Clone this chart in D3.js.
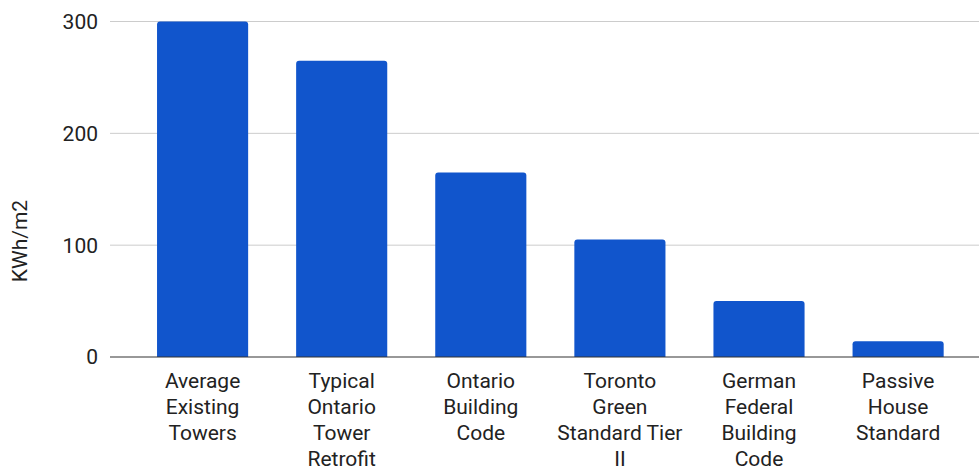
<!DOCTYPE html>
<html><head><meta charset="utf-8">
<script src="https://cdn.jsdelivr.net/npm/d3@7"></script>
<style>body{margin:0;background:#fff}svg{display:block;font-family:Roboto,sans-serif}</style>
</head><body><svg id="c" width="979" height="470"></svg>
<script>
const categories = [
  ["Average","Existing","Towers"],
  ["Typical","Ontario","Tower","Retrofit"],
  ["Ontario","Building","Code"],
  ["Toronto","Green","Standard Tier","II"],
  ["German","Federal","Building","Code"],
  ["Passive","House","Standard"]
];
const values = [300, 265, 165, 105, 50, 14];
const yTicks = [0, 100, 200, 300];
const yLabel = "KWh/m2";

const svg = d3.select("#c");
const x = d3.scaleBand().domain(d3.range(categories.length)).range([115.3, 985.4]).paddingInner(0.345).paddingOuter(0.3);
const y = d3.scaleLinear().domain([0, 300]).range([357, 21.5]);

// gridlines
svg.append("g").selectAll("line").data(yTicks.filter(d => d !== 0)).join("line")
  .attr("x1", 110).attr("x2", 979).attr("y1", d => y(d)).attr("y2", d => y(d))
  .attr("stroke", "#cccccc").attr("stroke-width", 1);

// y tick labels
svg.append("g").selectAll("text").data(yTicks).join("text")
  .attr("x", 98).attr("y", d => y(d)).attr("dy", "0.35em").attr("text-anchor", "end")
  .attr("font-size", 21).attr("fill", "#222").text(d => d);

// bars with rounded top corners
const r = 3;
svg.append("g").selectAll("path").data(values).join("path")
  .attr("fill", "#1155cc")
  .attr("d", (d, i) => {
    const x0 = x(i), w = x.bandwidth(), y0 = y(d), yb = y(0);
    return `M${x0},${yb}V${y0 + r}Q${x0},${y0} ${x0 + r},${y0}H${x0 + w - r}Q${x0 + w},${y0} ${x0 + w},${y0 + r}V${yb}Z`;
  });

// zero line
svg.append("line").attr("x1", 110).attr("x2", 979).attr("y1", y(0)).attr("y2", y(0))
  .attr("stroke", "#333").attr("stroke-width", 1.2);

// category labels
const lab = svg.append("g").selectAll("text").data(categories).join("text")
  .attr("text-anchor", "middle").attr("font-size", 21).attr("fill", "#222")
  .attr("x", (d, i) => x(i) + x.bandwidth() / 2);
lab.selectAll("tspan").data(d => d).join("tspan")
  .attr("x", function() { return d3.select(this.parentNode).attr("x"); })
  .attr("y", (d, j) => 381 + j * 26).attr("dy", "0.35em").text(d => d);

// y axis label
svg.append("text").attr("transform", "translate(20,241) rotate(-90)")
  .attr("text-anchor", "middle").attr("dy", "0.35em").attr("font-size", 21).attr("fill", "#222").text(yLabel);
</script></body></html>
